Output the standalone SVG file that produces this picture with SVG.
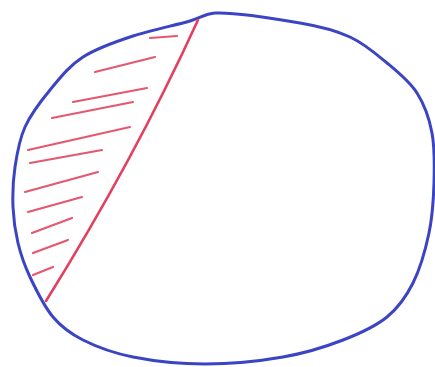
<svg xmlns="http://www.w3.org/2000/svg" width="435" height="367" viewBox="0 0 435 367">
<style>
.blue{fill:none;stroke:#3b44c4;stroke-width:3;stroke-linecap:round;stroke-linejoin:round}
.red{fill:none;stroke:#e2405e;stroke-width:2.6;stroke-linecap:round}
.hatch{fill:none;stroke:#e0465f;stroke-width:2.2;stroke-linecap:round;opacity:0.9}
</style>
<rect width="435" height="367" fill="#ffffff"/>
<g id="outline">
<path class="blue" d="M215,13 C235,12 277.5,19 300,23 C322.5,26.8 335.5,30.3 350,37 C364.5,43.7 375.8,53.7 387,63 C398.2,72.3 409.5,81.3 417,93 C424.5,104.7 429.2,118 432,133 C434.8,148 434.5,166.3 434,183 C433.5,199.7 432.5,216.3 429,233 C425.5,249.7 420,269 413,283 C406,297 398.7,307.5 387,317 C375.3,326.5 360.3,333.3 343,340 C325.7,346.7 306,353 283,357 C260,361 230,364 205,364 C180,364 153.3,361 133,357 C112.7,353 96.3,346.7 83,340 C69.7,333.3 61.8,327.5 53,317 C44.2,306.5 35.8,289.3 30,277 C24.2,264.7 20.8,254.7 18,243 C15.2,231.3 13.5,219.7 13,207 C12.5,194.3 13,180.3 15,167 C17,153.7 19.2,139.8 25,127 C30.8,114.2 40.3,101.7 50,90 C59.7,78.3 69.2,65.8 83,57 C96.8,48.2 115.2,41.8 133,36 C150.8,30.2 176.3,25 190,21 C198.5,18.5 206,13.5 215,13 Z"/>
</g>
<g id="chord">
<path class="red" d="M198,20 Q134,160 46,301"/>
</g>
<g id="hatching">
<line class="hatch" x1="150" y1="38" x2="177" y2="36"/>
<line class="hatch" x1="95" y1="72" x2="155" y2="57"/>
<line class="hatch" x1="73" y1="102" x2="147" y2="88"/>
<line class="hatch" x1="52" y1="118" x2="133" y2="102"/>
<line class="hatch" x1="28" y1="150" x2="130" y2="127"/>
<line class="hatch" x1="30" y1="163" x2="102" y2="150"/>
<line class="hatch" x1="25" y1="192" x2="98" y2="172"/>
<line class="hatch" x1="28" y1="212" x2="82" y2="197"/>
<line class="hatch" x1="32" y1="233" x2="72" y2="218"/>
<line class="hatch" x1="33" y1="253" x2="68" y2="240"/>
<line class="hatch" x1="33" y1="275" x2="53" y2="267"/>
</g>
</svg>
